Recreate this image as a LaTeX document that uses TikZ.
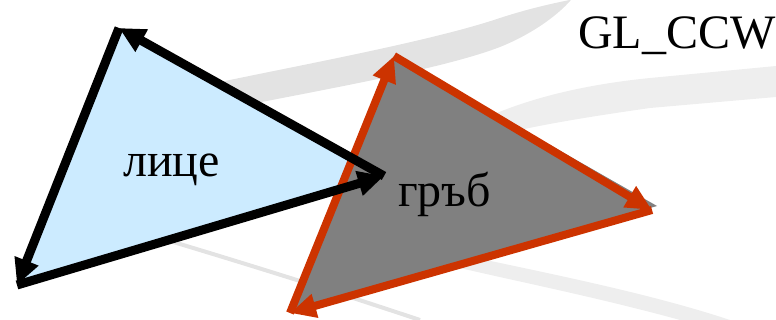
\documentclass[tikz,border=0pt]{standalone}
\usepackage{fontspec}
\setmainfont{Liberation Serif}
\usetikzlibrary{arrows.meta}
\definecolor{faceblue}{HTML}{CCEBFF}
\definecolor{backgray}{HTML}{808080}
\definecolor{edgered}{HTML}{CC3300}
\definecolor{swoosh}{HTML}{E3E3E3}
\definecolor{swooshlight}{HTML}{EEEEEE}
\begin{document}
\begin{tikzpicture}[x=1pt,y=-1pt,
  blackedge/.style={line width=9pt, black, -{Triangle[length=26pt,width=24pt]}},
  rededge/.style={line width=8pt, edgered, -{Triangle[length=26pt,width=23pt]}},
  lbl/.style={font=\fontsize{48}{50}\selectfont, inner sep=0pt, anchor=base west}]
\useasboundingbox (0,0) rectangle (776,320);
% background swooshes
\fill[swoosh] (160,95) .. controls (260,72) and (420,45) .. (500,18)
  .. controls (540,5) and (570,0) .. (595,-5) -- (575,-5)
  .. controls (560,15) and (530,35) .. (500,47)
  .. controls (440,70) and (320,90) .. (180,118) -- cycle;
\fill[swooshlight] (470,125) .. controls (520,100) and (580,85) .. (650,78)
  -- (776,66) -- (776,97) -- (650,108)
  .. controls (580,118) and (520,128) .. (480,140) -- cycle;
\fill[swooshlight] (440,250) .. controls (520,268) and (640,290) .. (730,320)
  -- (680,320) .. controls (600,298) and (520,282) .. (460,268) -- cycle;
\draw[swoosh, line width=4pt] (160,238) .. controls (250,265) and (330,290) .. (420,320);
% vertices
\coordinate (bt) at (119,28);
\coordinate (bl) at (17,285);
\coordinate (br) at (384,176);
\coordinate (rt) at (394,56);
\coordinate (rl) at (290,313);
\coordinate (rr) at (652,210);
\coordinate (gt) at (657,206);
% fills
\fill[faceblue] (bt) -- (bl) -- (br) -- cycle;
\fill[backgray] (rt) -- (rl) -- (gt) -- cycle;
% red edges (back face, clockwise)
\draw[rededge] (rl) -- (rt);
\draw[rededge] (rt) -- (rr);
\draw[rededge] (rr) -- (rl);
% black edges (front face, counter-clockwise)
\draw[blackedge] (br) -- (bt);
\draw[blackedge] (bt) -- (bl);
\draw[blackedge] (bl) -- (br);
% labels
\node[lbl] (front) at (123,177) {лице};
\node[lbl] (back) at (398,207) {гръб};
\node[lbl] (mode) at (578,49) {GL\_CCW};
\end{tikzpicture}
\end{document}
